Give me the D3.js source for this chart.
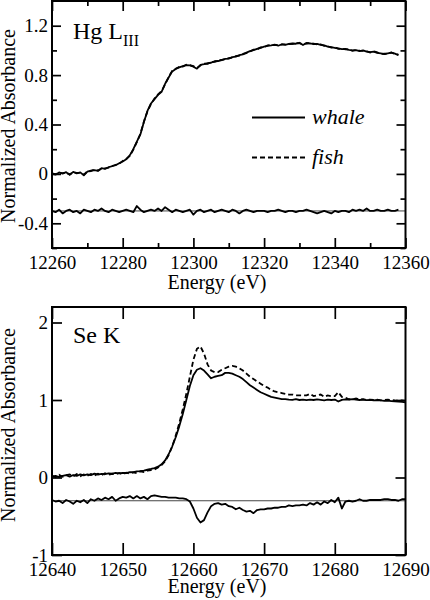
<!DOCTYPE html>
<html><head><meta charset="utf-8">
<script src="https://cdn.jsdelivr.net/npm/d3@7"></script>
<style>
body{margin:0;background:#fff}
svg{display:block}
text{font-family:"Liberation Serif","Times New Roman",serif;fill:#000}
</style>
</head><body>
<svg id="c" width="430" height="600"></svg>
<script>
// ---------------- DATA ----------------
// Hg L_III panel: energies 12260..12358 eV, step 1
const energyHg = d3.range(12260, 12359, 1);
const whaleHg = [
0.000,-0.006,0.012,0.002,0.014,-0.008,0.016,0.004,0.012,-0.012,
0.018,0.026,0.030,0.024,0.046,0.040,0.054,0.062,0.070,0.086,
0.100,0.118,0.150,0.200,0.262,0.320,0.420,0.510,0.570,0.605,
0.640,0.665,0.730,0.780,0.830,0.850,0.862,0.872,0.880,0.878,
0.868,0.852,0.882,0.888,0.896,0.900,0.912,0.914,0.922,0.932,
0.934,0.946,0.950,0.962,0.968,0.982,0.994,1.002,1.012,1.020,
1.030,1.036,1.040,1.046,1.038,1.050,1.044,1.052,1.056,1.054,
1.062,1.044,1.060,1.056,1.050,1.052,1.044,1.040,1.030,1.026,
1.020,1.016,1.010,1.012,1.004,1.000,1.002,0.994,1.000,0.990,
0.986,0.990,0.980,0.976,0.970,0.976,0.982,0.974,0.962];
const fishHg = [
0.004,-0.002,0.008,0.006,0.010,-0.004,0.012,0.008,0.008,-0.006,
0.020,0.022,0.034,0.028,0.042,0.044,0.050,0.064,0.074,0.082,
0.104,0.122,0.146,0.196,0.258,0.324,0.424,0.506,0.566,0.610,
0.644,0.670,0.726,0.784,0.834,0.852,0.866,0.868,0.884,0.880,
0.872,0.858,0.878,0.892,0.892,0.904,0.908,0.918,0.924,0.928,
0.938,0.942,0.954,0.958,0.972,0.978,0.990,1.006,1.008,1.024,
1.026,1.040,1.044,1.042,1.044,1.046,1.048,1.050,1.052,1.058,
1.058,1.050,1.056,1.060,1.054,1.048,1.048,1.036,1.034,1.022,
1.024,1.012,1.014,1.008,1.008,0.996,1.004,0.998,0.996,0.994,
0.982,0.992,0.984,0.972,0.974,0.972,0.984,0.970,0.966];
const diffHg = [
-0.30,-0.31,-0.29,-0.32,-0.30,-0.29,-0.31,-0.30,-0.32,-0.29,
-0.30,-0.31,-0.29,-0.30,-0.28,-0.30,-0.31,-0.29,-0.30,-0.31,
-0.30,-0.29,-0.30,-0.31,-0.26,-0.29,-0.31,-0.30,-0.29,-0.30,
-0.28,-0.30,-0.27,-0.29,-0.31,-0.29,-0.30,-0.31,-0.30,-0.29,
-0.33,-0.30,-0.29,-0.31,-0.30,-0.29,-0.31,-0.30,-0.29,-0.30,
-0.31,-0.29,-0.30,-0.32,-0.30,-0.29,-0.30,-0.31,-0.30,-0.30,
-0.30,-0.31,-0.30,-0.30,-0.29,-0.30,-0.31,-0.30,-0.30,-0.31,
-0.30,-0.30,-0.29,-0.30,-0.31,-0.32,-0.31,-0.30,-0.31,-0.32,
-0.30,-0.31,-0.30,-0.30,-0.31,-0.29,-0.30,-0.29,-0.30,-0.28,
-0.30,-0.30,-0.29,-0.30,-0.30,-0.29,-0.30,-0.30,-0.29];

// Se K panel: energies 12640..12690 eV, step 0.5
const energySe = d3.range(0, 101).map(i => 12640 + i * 0.5);
const whaleSe = [
0.010,0.022,0.004,0.020,0.030,0.012,0.032,0.020,0.040,0.028,
0.040,0.030,0.050,0.038,0.048,0.042,0.052,0.050,0.060,0.052,
0.060,0.058,0.068,0.070,0.078,0.082,0.090,0.100,0.110,0.122,
0.140,0.170,0.220,0.300,0.400,0.520,0.660,0.820,1.000,1.180,
1.320,1.390,1.410,1.380,1.330,1.280,1.300,1.310,1.320,1.350,
1.350,1.340,1.320,1.300,1.270,1.230,1.190,1.160,1.130,1.100,
1.080,1.060,1.040,1.030,1.020,1.010,1.012,1.004,1.002,1.010,
1.000,1.006,0.998,1.004,1.000,1.008,1.002,0.996,1.004,1.000,
1.006,0.980,1.002,1.008,1.004,1.012,1.006,1.000,1.004,0.998,
1.002,0.996,1.000,0.994,0.990,0.992,0.986,0.984,0.980,0.976,
0.970];
const fishSe = [
0.020,0.004,0.036,0.010,0.030,0.040,0.014,0.044,0.016,0.040,
0.022,0.046,0.026,0.050,0.030,0.056,0.034,0.048,0.040,0.058,
0.042,0.062,0.050,0.066,0.056,0.080,0.070,0.090,0.096,0.104,
0.130,0.160,0.210,0.290,0.400,0.540,0.700,0.880,1.080,1.300,
1.520,1.660,1.690,1.600,1.460,1.380,1.360,1.360,1.390,1.410,
1.430,1.440,1.430,1.410,1.380,1.340,1.300,1.270,1.240,1.210,
1.180,1.160,1.130,1.110,1.100,1.090,1.080,1.070,1.070,1.060,
1.060,1.060,1.060,1.080,1.050,1.060,1.070,1.040,1.060,1.050,
1.050,1.100,1.040,1.030,1.010,1.010,1.020,1.004,1.010,1.000,
1.006,1.000,1.004,0.996,1.000,1.004,1.000,0.994,0.990,0.996,
0.988];
const diffSe = [
-0.29,-0.31,-0.30,-0.33,-0.29,-0.31,-0.34,-0.30,-0.32,-0.29,
-0.33,-0.28,-0.30,-0.27,-0.29,-0.26,-0.28,-0.25,-0.30,-0.27,
-0.25,-0.26,-0.24,-0.27,-0.24,-0.27,-0.25,-0.28,-0.24,-0.23,
-0.24,-0.25,-0.25,-0.26,-0.26,-0.26,-0.27,-0.27,-0.28,-0.31,
-0.40,-0.52,-0.58,-0.55,-0.45,-0.37,-0.34,-0.33,-0.35,-0.34,
-0.37,-0.38,-0.41,-0.39,-0.42,-0.44,-0.43,-0.46,-0.42,-0.41,
-0.41,-0.40,-0.40,-0.39,-0.39,-0.38,-0.38,-0.36,-0.37,-0.36,
-0.36,-0.35,-0.36,-0.33,-0.35,-0.32,-0.35,-0.31,-0.33,-0.29,
-0.32,-0.26,-0.40,-0.31,-0.30,-0.31,-0.30,-0.28,-0.30,-0.30,
-0.29,-0.29,-0.29,-0.29,-0.28,-0.28,-0.29,-0.29,-0.30,-0.28,
-0.28];

// Tick values
const hgXMajor = [12260, 12280, 12300, 12320, 12340, 12360];
const hgXMinor = [12270, 12290, 12310, 12330, 12350];
const hgYMajor = [-0.4, 0, 0.4, 0.8, 1.2];
const hgYMinor = [-0.6, -0.2, 0.2, 0.6, 1.0];
const seXMajor = [12640, 12650, 12660, 12670, 12680, 12690];
const seYMajor = [-1, 0, 1, 2];
const diffOffset = -0.3;

// ---------------- DRAW ----------------
const svg = d3.select("#c");
const FONT = '"Liberation Serif","Times New Roman",serif';
const X0 = 52, X1 = 405.5;

function panel(o) {
  const x = d3.scaleLinear().domain(o.xDomain).range([X0, X1]);
  const y = d3.scaleLinear().domain(o.yDomain).range([o.bottom, o.top]);
  const g = svg.append("g");

  function ticks(axisFn, scale, vals, len, fmt, pad, tr) {
    const a = axisFn(scale).tickValues(vals).tickSize(-len).tickPadding(pad)
      .tickFormat(fmt || (() => ""));
    const ag = g.append("g").attr("transform", tr).call(a);
    ag.attr("font-family", FONT).attr("font-size", 19);
    ag.select(".domain").remove();
    ag.selectAll("line").attr("stroke", "#000").attr("stroke-width", 1.7);
  }
  const fmt = d => String(d);
  ticks(d3.axisBottom, x, o.xMajor, o.xMajLen, fmt, 8, `translate(0,${o.bottom})`);
  ticks(d3.axisTop, x, o.xMajor, o.xMajLen, null, 0, `translate(0,${o.top})`);
  if (o.xMinor) {
    ticks(d3.axisBottom, x, o.xMinor, o.xMinLen, null, 0, `translate(0,${o.bottom})`);
    ticks(d3.axisTop, x, o.xMinor, o.xMinLen, null, 0, `translate(0,${o.top})`);
  }
  ticks(d3.axisLeft, y, o.yMajor, o.yMajLen, fmt, 4, `translate(${X0},0)`);
  ticks(d3.axisRight, y, o.yMajor, o.yMajLen, null, 0, `translate(${X1},0)`);
  if (o.yMinor) {
    ticks(d3.axisLeft, y, o.yMinor, o.yMinLen, null, 0, `translate(${X0},0)`);
    ticks(d3.axisRight, y, o.yMinor, o.yMinLen, null, 0, `translate(${X1},0)`);
  }

  // reference line for difference
  g.append("line")
    .attr("x1", x(o.xDomain[0])).attr("x2", x(o.xDomain[1]))
    .attr("y1", y(diffOffset)).attr("y2", y(diffOffset))
    .attr("stroke", "#444").attr("stroke-width", 1);

  const line = d3.line().x(d => x(d[0])).y(d => y(d[1]));
  const zip = (xs, ys) => ys.map((v, i) => [xs[i], v]);

  g.append("path").attr("d", line(zip(o.energy, o.diff)))
    .attr("fill", "none").attr("stroke", "#000").attr("stroke-width", 1.8)
    .attr("stroke-linejoin", "round");
  g.append("path").attr("d", line(zip(o.energy, o.fish)))
    .attr("fill", "none").attr("stroke", "#000").attr("stroke-width", 1.8)
    .attr("stroke-dasharray", "5,3");
  g.append("path").attr("d", line(zip(o.energy, o.whale)))
    .attr("fill", "none").attr("stroke", "#000").attr("stroke-width", 1.8)
    .attr("stroke-linejoin", "round");

  // frame
  g.append("rect").attr("x", X0).attr("y", o.top)
    .attr("width", X1 - X0).attr("height", o.bottom - o.top)
    .attr("fill", "none").attr("stroke", "#000").attr("stroke-width", 2);

  // axis titles
  g.append("text").attr("x", 217).attr("y", o.xTitleY)
    .attr("text-anchor", "middle").attr("font-size", 20).text("Energy (eV)");
  g.append("text").attr("transform", `translate(15,${o.yTitleC}) rotate(-90)`)
    .attr("text-anchor", "middle").attr("font-size", 20).text("Normalized Absorbance");
  return { x, y, g };
}

const p1 = panel({
  xDomain: [12260, 12360], yDomain: [-0.6, 1.4], top: 1, bottom: 248,
  xMajor: hgXMajor, xMinor: hgXMinor, yMajor: hgYMajor, yMinor: hgYMinor,
  xMajLen: 10, xMinLen: 5, yMajLen: 9, yMinLen: 5,
  energy: energyHg, whale: whaleHg, fish: fishHg, diff: diffHg,
  xTitleY: 289, yTitleC: 126
});
const p2 = panel({
  xDomain: [12640, 12690], yDomain: [-1, 2.2], top: 307, bottom: 555,
  xMajor: seXMajor, yMajor: seYMajor,
  xMajLen: 12, yMajLen: 10,
  energy: energySe, whale: whaleSe, fish: fishSe, diff: diffSe,
  xTitleY: 593, yTitleC: 425
});

// panel labels
const t1 = svg.append("text").attr("x", 73).attr("y", 39).attr("font-size", 24);
t1.append("tspan").text("Hg L");
t1.append("tspan").attr("font-size", 16).attr("dy", 7).text("III");
svg.append("text").attr("x", 73).attr("y", 343).attr("font-size", 24).text("Se K");

// legend
const legend = [
  { label: "whale", dash: null, y: 117.5 },
  { label: "fish", dash: "5,3", y: 157.5 }
];
legend.forEach(d => {
  svg.append("line").attr("x1", 252).attr("x2", 305).attr("y1", d.y).attr("y2", d.y)
    .attr("stroke", "#000").attr("stroke-width", 1.8)
    .attr("stroke-dasharray", d.dash);
  svg.append("text").attr("x", 312).attr("y", d.y + 6).attr("font-size", 22)
    .attr("font-style", "italic").text(d.label);
});
</script>
</body></html>
